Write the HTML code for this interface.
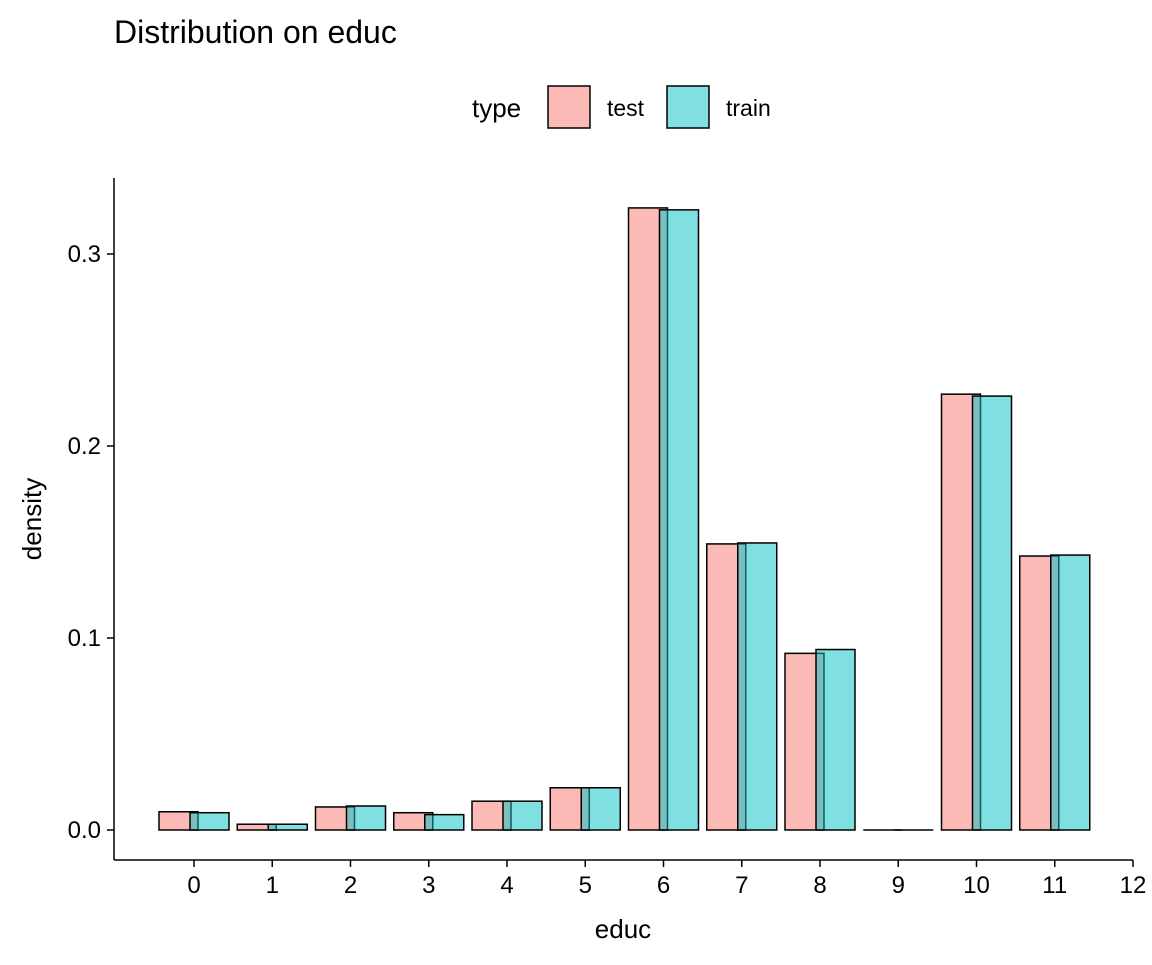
<!DOCTYPE html>
<html><head><meta charset="utf-8"><style>
body{margin:0;background:#fff}
svg{font-family:"Liberation Sans",Arial,sans-serif}
</style></head><body>
<svg id="chart" width="1152" height="960" viewBox="0 0 1152 960">
<text x="114" y="43" font-size="32">Distribution on educ</text>
<g>
<text x="472" y="117" font-size="26">type</text>
<rect x="548" y="86" width="42" height="42" fill="#F8766D" fill-opacity="0.5" stroke="#000" stroke-width="1.5"/>
<text x="607" y="116" font-size="23">test</text>
<rect x="667" y="86" width="42" height="42" fill="#00BFC4" fill-opacity="0.5" stroke="#000" stroke-width="1.5"/>
<text x="726" y="116" font-size="23">train</text>
</g>
<g id="bars"></g>
<g id="axes"></g>
<text x="623" y="938" font-size="26" text-anchor="middle">educ</text>
<text transform="translate(41,519) rotate(-90)" font-size="26" text-anchor="middle">density</text>
</svg>
<script>
const categories=[0,1,2,3,4,5,6,7,8,9,10,11];
const testValues=[0.0095,0.003,0.012,0.009,0.015,0.022,0.324,0.149,0.092,0,0.227,0.1427];
const trainValues=[0.009,0.003,0.0125,0.008,0.015,0.022,0.323,0.1495,0.094,0,0.226,0.1432];
const xTicks=[0,1,2,3,4,5,6,7,8,9,10,11,12];
const yTicks=[0,0.1,0.2,0.3];
const yTickLabels=["0.0","0.1","0.2","0.3"];
const NS="http://www.w3.org/2000/svg";
function xs(v){return 194+v*78.25;}
function ys(v){return 830-v*1920;}
const bars=document.getElementById('bars'),axes=document.getElementById('axes');
function mk(t,a,p){const e=document.createElementNS(NS,t);for(const k in a)e.setAttribute(k,a[k]);p.appendChild(e);return e;}
categories.forEach((c,i)=>{
  [[testValues,-15.5,"#F8766D","test"],[trainValues,15.5,"#00BFC4","train"]].forEach(s=>{
    const v=s[0][i],cx=xs(c)+s[1];
    const h=ys(0)-ys(v);
    let r;
    if(h<=0.5){
      r=mk('line',{x1:cx-19.5,y1:ys(0),x2:cx+19.5,y2:ys(0),stroke:'#000','stroke-width':1.5},bars);
    } else {
      r=mk('rect',{x:cx-19.5,y:ys(v),width:39,height:h,fill:s[2],'fill-opacity':0.5,stroke:'#000','stroke-width':1.5},bars);
    }
    
    
  });
});
const xa=mk('line',{x1:114,y1:860,x2:1133,y2:860,stroke:'#000','stroke-width':1.5},axes);


const ya=mk('line',{x1:114,y1:178,x2:114,y2:860,stroke:'#000','stroke-width':1.5},axes);


xTicks.forEach(t=>{
  mk('line',{x1:xs(t),y1:860,x2:xs(t),y2:867,stroke:'#000','stroke-width':1.5},axes);
  const tx=mk('text',{x:xs(t),y:893,'font-size':24,'text-anchor':'middle'},axes);
  tx.textContent=t;
  
  
});
yTicks.forEach((t,i)=>{
  mk('line',{x1:107,y1:ys(t),x2:114,y2:ys(t),stroke:'#000','stroke-width':1.5},axes);
  const tx=mk('text',{x:101,y:ys(t)+8,'font-size':24,'text-anchor':'end'},axes);
  tx.textContent=yTickLabels[i];
  
  
});
</script>
</body></html>
